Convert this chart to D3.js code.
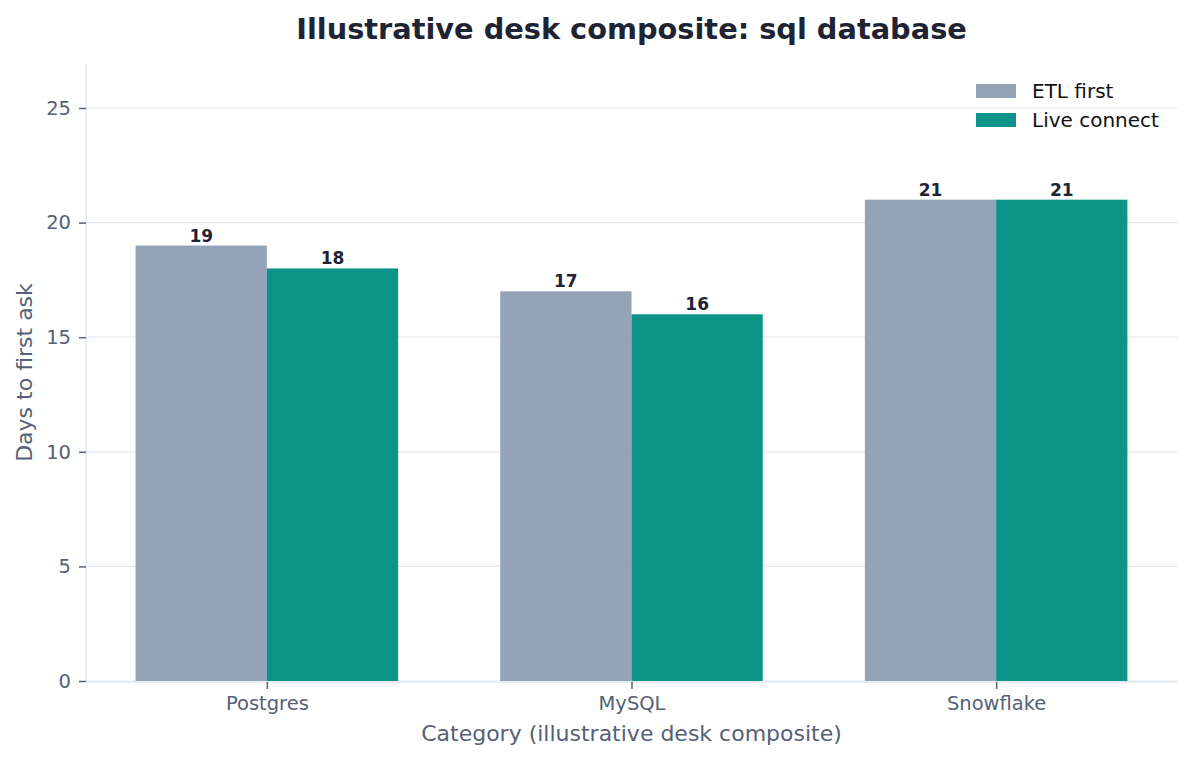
<!DOCTYPE html>
<html><head><meta charset="utf-8">
<script src="https://cdn.jsdelivr.net/npm/d3@7/dist/d3.min.js"></script>
<style>body{margin:0;background:#fff}svg{display:block;font-family:"DejaVu Sans",sans-serif}</style>
</head><body><svg id="c" width="1193" height="760"></svg>
<script>
const categories = ["Postgres", "MySQL", "Snowflake"];
const seriesNames = ["ETL first", "Live connect"];
const etlFirst = [19, 17, 21];
const liveConnect = [18, 16, 21];
const yTicks = [0, 5, 10, 15, 20, 25];
const colors = ["#94a3b8", "#0d9488"];

const svg = d3.select("#c");
const m = {l:86, r:1177, t:64, b:681};
const x = d3.scaleLinear().domain([-0.496, 2.496]).range([m.l, m.r]);
const y = d3.scaleLinear().domain([0, 26.92]).range([m.b, m.t]);
const bw = 0.36;
const textCol = "#566176";
const FF = "DejaVu Sans";

// grid
svg.append("g").selectAll("line").data(yTicks).join("line")
  .attr("x1", m.l).attr("x2", m.r).attr("y1", d=>y(d)).attr("y2", d=>y(d))
  .attr("stroke", "#e5e7eb").attr("stroke-width", 1.2);

const series = [etlFirst, liveConnect];
series.forEach((vals, si) => {
  const g = svg.append("g");
  g.selectAll("rect").data(vals).join("rect")
    .attr("x", (d,i)=>x(i + (si===0 ? -bw : 0)))
    .attr("width", (d,i)=>x(i+bw)-x(i))
    .attr("y", d=>y(d)).attr("height", d=>y(0)-y(d))
    .attr("fill", colors[si]);
  g.selectAll("text").data(vals).join("text")
    .attr("x", (d,i)=>x(i + (si===0 ? -bw/2 : bw/2)))
    .attr("y", d=>y(d)-4)
    .attr("text-anchor","middle").attr("font-size", 17).attr("font-weight","bold")
    .attr("font-family", FF).attr("fill", "#1e2433").text(d=>d);
});

// spines
svg.append("line").attr("x1", m.l).attr("x2", m.l).attr("y1", m.t).attr("y2", m.b+1)
  .attr("stroke", "#e2e8f0").attr("stroke-width", 1.5);
svg.append("line").attr("x1", m.l).attr("x2", m.r).attr("y1", m.b+1).attr("y2", m.b+1)
  .attr("stroke", "#e2e8f0").attr("stroke-width", 1.5);

// y axis
const ya = svg.append("g").attr("transform", `translate(${m.l},0)`)
  .call(d3.axisLeft(y).tickValues(yTicks).tickSize(7).tickPadding(8).tickFormat(d3.format("d")));
ya.select(".domain").remove();
ya.selectAll("line").attr("stroke", textCol).attr("stroke-width", 1.5);
ya.selectAll("text").attr("font-size", 19.5).attr("fill", textCol).attr("font-family", FF);

// x axis
const xa = svg.append("g").attr("transform", `translate(0,${m.b+1})`)
  .call(d3.axisBottom(x).tickValues([0,1,2]).tickSize(7).tickPadding(7).tickFormat(i=>categories[i]));
xa.select(".domain").remove();
xa.selectAll("line").attr("stroke", textCol).attr("stroke-width", 1.5);
xa.selectAll("text").attr("font-size", 19.5).attr("fill", textCol).attr("font-family", FF);

// labels
svg.append("text").attr("x", (m.l+m.r)/2).attr("y", 741).attr("text-anchor","middle")
  .attr("font-size", 22).attr("font-family", FF).attr("fill", textCol).text("Category (illustrative desk composite)");
svg.append("text").attr("transform", `translate(32,${(m.t+m.b)/2}) rotate(-90)`).attr("text-anchor","middle")
  .attr("font-size", 22).attr("font-family", FF).attr("fill", textCol).text("Days to first ask");
svg.append("text").attr("x", (m.l+m.r)/2).attr("y", 39).attr("text-anchor","middle")
  .attr("font-size", 28.8).attr("font-weight","bold").attr("font-family", FF).attr("fill", "#1e2433")
  .text("Illustrative desk composite: sql database");

// legend
const lg = svg.append("g");
seriesNames.forEach((n, i) => {
  lg.append("rect").attr("x", 976).attr("y", 84 + i*29).attr("width", 40).attr("height", 14).attr("fill", colors[i]);
  lg.append("text").attr("x", 1032).attr("y", 98 + i*29).attr("font-size", 20).attr("font-family", FF).attr("fill", "#111").text(n);
});
</script></body></html>
